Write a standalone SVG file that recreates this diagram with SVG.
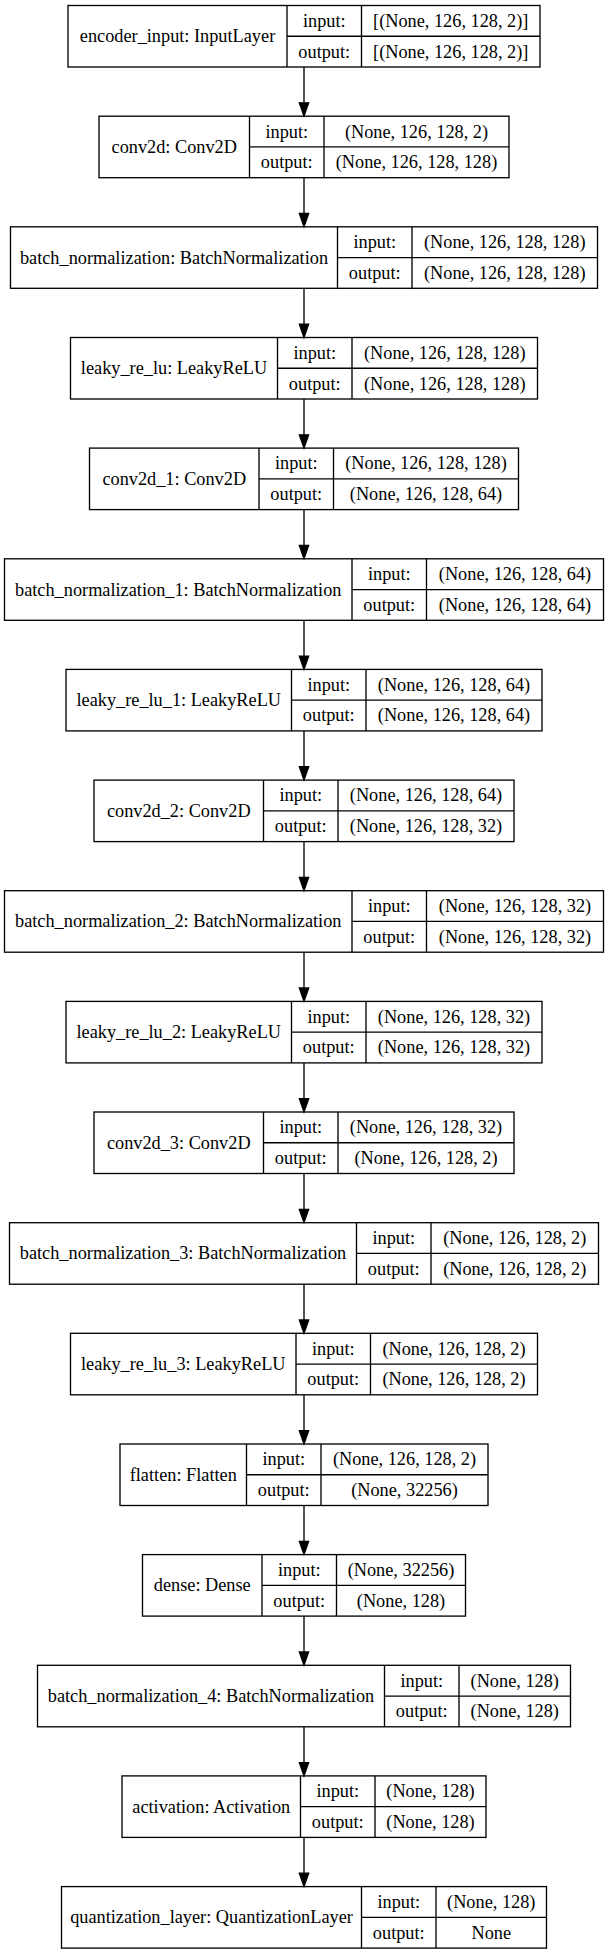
<svg xmlns="http://www.w3.org/2000/svg" width="608" height="1955" viewBox="0 0 608 1955" font-family="'Liberation Serif', 'DejaVu Serif', serif" font-size="18.3">
<style>
.b{fill:none;stroke:#000;stroke-width:1.33}
.e{fill:none;stroke:#000;stroke-width:1.33}
text{font-family:'Liberation Serif','DejaVu Serif',serif;font-size:18.3px;text-anchor:middle;fill:#000}
</style>
<defs>
<marker id="ah" markerUnits="userSpaceOnUse" markerWidth="16" markerHeight="12" refX="0" refY="4.67" orient="auto" overflow="visible">
<path d="M0,0 L13.3,4.67 L0,9.33 Z" fill="#000" stroke="#000" stroke-width="1.33"/>
</marker>
</defs>
<rect width="608" height="1955" fill="#fff"/>
<g id="connectors">
<line class="e" x1="304" y1="67" x2="304" y2="102.8" marker-end="url(#ah)"/>
<line class="e" x1="304" y1="177.7" x2="304" y2="213.5" marker-end="url(#ah)"/>
<line class="e" x1="304" y1="288.3" x2="304" y2="324.1" marker-end="url(#ah)"/>
<line class="e" x1="304" y1="399" x2="304" y2="434.8" marker-end="url(#ah)"/>
<line class="e" x1="304" y1="509.6" x2="304" y2="545.4" marker-end="url(#ah)"/>
<line class="e" x1="304" y1="620.3" x2="304" y2="656.1" marker-end="url(#ah)"/>
<line class="e" x1="304" y1="730.9" x2="304" y2="766.7" marker-end="url(#ah)"/>
<line class="e" x1="304" y1="841.6" x2="304" y2="877.4" marker-end="url(#ah)"/>
<line class="e" x1="304" y1="952.2" x2="304" y2="988" marker-end="url(#ah)"/>
<line class="e" x1="304" y1="1062.9" x2="304" y2="1098.7" marker-end="url(#ah)"/>
<line class="e" x1="304" y1="1173.5" x2="304" y2="1209.3" marker-end="url(#ah)"/>
<line class="e" x1="304" y1="1284.2" x2="304" y2="1320" marker-end="url(#ah)"/>
<line class="e" x1="304" y1="1394.8" x2="304" y2="1430.6" marker-end="url(#ah)"/>
<line class="e" x1="304" y1="1505.5" x2="304" y2="1541.3" marker-end="url(#ah)"/>
<line class="e" x1="304" y1="1616.1" x2="304" y2="1651.9" marker-end="url(#ah)"/>
<line class="e" x1="304" y1="1726.8" x2="304" y2="1762.6" marker-end="url(#ah)"/>
<line class="e" x1="304" y1="1837.4" x2="304" y2="1873.2" marker-end="url(#ah)"/>
</g>

<g id="encoder_input" transform="translate(0,5.5)">
<rect class="b" x="68" y="0" width="472" height="61.5"/>
<path class="b" d="M287,0V61.5M361.5,0V61.5M287,30.75H540"/>
<text x="177.5" y="36.75">encoder_input: InputLayer</text>
<text x="324.25" y="21.4">input:</text><text x="324.25" y="52">output:</text>
<text x="450.75" y="21.4">[(None, 126, 128, 2)]</text><text x="450.75" y="52">[(None, 126, 128, 2)]</text>
</g>

<g id="conv2d" transform="translate(0,116.2)">
<rect class="b" x="99" y="0" width="410" height="61.5"/>
<path class="b" d="M249.5,0V61.5M324,0V61.5M249.5,30.75H509"/>
<text x="174.25" y="36.75">conv2d: Conv2D</text>
<text x="286.75" y="21.4">input:</text><text x="286.75" y="52">output:</text>
<text x="416.5" y="21.4">(None, 126, 128, 2)</text><text x="416.5" y="52">(None, 126, 128, 128)</text>
</g>

<g id="batch_normalization" transform="translate(0,226.8)">
<rect class="b" x="10.5" y="0" width="587" height="61.5"/>
<path class="b" d="M337.5,0V61.5M412,0V61.5M337.5,30.75H597.5"/>
<text x="174" y="36.75">batch_normalization: BatchNormalization</text>
<text x="374.75" y="21.4">input:</text><text x="374.75" y="52">output:</text>
<text x="504.75" y="21.4">(None, 126, 128, 128)</text><text x="504.75" y="52">(None, 126, 128, 128)</text>
</g>

<g id="leaky_re_lu" transform="translate(0,337.5)">
<rect class="b" x="70.5" y="0" width="467" height="61.5"/>
<path class="b" d="M277.5,0V61.5M352,0V61.5M277.5,30.75H537.5"/>
<text x="174" y="36.75">leaky_re_lu: LeakyReLU</text>
<text x="314.75" y="21.4">input:</text><text x="314.75" y="52">output:</text>
<text x="444.75" y="21.4">(None, 126, 128, 128)</text><text x="444.75" y="52">(None, 126, 128, 128)</text>
</g>

<g id="conv2d_1" transform="translate(0,448.1)">
<rect class="b" x="89.5" y="0" width="429" height="61.5"/>
<path class="b" d="M259,0V61.5M333.5,0V61.5M259,30.75H518.5"/>
<text x="174.25" y="36.75">conv2d_1: Conv2D</text>
<text x="296.25" y="21.4">input:</text><text x="296.25" y="52">output:</text>
<text x="426" y="21.4">(None, 126, 128, 128)</text><text x="426" y="52">(None, 126, 128, 64)</text>
</g>

<g id="batch_normalization_1" transform="translate(0,558.8)">
<rect class="b" x="4.5" y="0" width="599" height="61.5"/>
<path class="b" d="M352,0V61.5M426.5,0V61.5M352,30.75H603.5"/>
<text x="178.25" y="36.75">batch_normalization_1: BatchNormalization</text>
<text x="389.25" y="21.4">input:</text><text x="389.25" y="52">output:</text>
<text x="515" y="21.4">(None, 126, 128, 64)</text><text x="515" y="52">(None, 126, 128, 64)</text>
</g>

<g id="leaky_re_lu_1" transform="translate(0,669.4)">
<rect class="b" x="66" y="0" width="476" height="61.5"/>
<path class="b" d="M291.5,0V61.5M366,0V61.5M291.5,30.75H542"/>
<text x="178.75" y="36.75">leaky_re_lu_1: LeakyReLU</text>
<text x="328.75" y="21.4">input:</text><text x="328.75" y="52">output:</text>
<text x="454" y="21.4">(None, 126, 128, 64)</text><text x="454" y="52">(None, 126, 128, 64)</text>
</g>

<g id="conv2d_2" transform="translate(0,780.1)">
<rect class="b" x="94" y="0" width="420" height="61.5"/>
<path class="b" d="M263.5,0V61.5M338,0V61.5M263.5,30.75H514"/>
<text x="178.75" y="36.75">conv2d_2: Conv2D</text>
<text x="300.75" y="21.4">input:</text><text x="300.75" y="52">output:</text>
<text x="426" y="21.4">(None, 126, 128, 64)</text><text x="426" y="52">(None, 126, 128, 32)</text>
</g>

<g id="batch_normalization_2" transform="translate(0,890.7)">
<rect class="b" x="4.5" y="0" width="599" height="61.5"/>
<path class="b" d="M352,0V61.5M426.5,0V61.5M352,30.75H603.5"/>
<text x="178.25" y="36.75">batch_normalization_2: BatchNormalization</text>
<text x="389.25" y="21.4">input:</text><text x="389.25" y="52">output:</text>
<text x="515" y="21.4">(None, 126, 128, 32)</text><text x="515" y="52">(None, 126, 128, 32)</text>
</g>

<g id="leaky_re_lu_2" transform="translate(0,1001.4)">
<rect class="b" x="66" y="0" width="476" height="61.5"/>
<path class="b" d="M291.5,0V61.5M366,0V61.5M291.5,30.75H542"/>
<text x="178.75" y="36.75">leaky_re_lu_2: LeakyReLU</text>
<text x="328.75" y="21.4">input:</text><text x="328.75" y="52">output:</text>
<text x="454" y="21.4">(None, 126, 128, 32)</text><text x="454" y="52">(None, 126, 128, 32)</text>
</g>

<g id="conv2d_3" transform="translate(0,1112)">
<rect class="b" x="94" y="0" width="420" height="61.5"/>
<path class="b" d="M263.5,0V61.5M338,0V61.5M263.5,30.75H514"/>
<text x="178.75" y="36.75">conv2d_3: Conv2D</text>
<text x="300.75" y="21.4">input:</text><text x="300.75" y="52">output:</text>
<text x="426" y="21.4">(None, 126, 128, 32)</text><text x="426" y="52">(None, 126, 128, 2)</text>
</g>

<g id="batch_normalization_3" transform="translate(0,1222.7)">
<rect class="b" x="9.5" y="0" width="589" height="61.5"/>
<path class="b" d="M356.5,0V61.5M431,0V61.5M356.5,30.75H598.5"/>
<text x="183" y="36.75">batch_normalization_3: BatchNormalization</text>
<text x="393.75" y="21.4">input:</text><text x="393.75" y="52">output:</text>
<text x="514.75" y="21.4">(None, 126, 128, 2)</text><text x="514.75" y="52">(None, 126, 128, 2)</text>
</g>

<g id="leaky_re_lu_3" transform="translate(0,1333.3)">
<rect class="b" x="70.5" y="0" width="467" height="61.5"/>
<path class="b" d="M296,0V61.5M370.5,0V61.5M296,30.75H537.5"/>
<text x="183.25" y="36.75">leaky_re_lu_3: LeakyReLU</text>
<text x="333.25" y="21.4">input:</text><text x="333.25" y="52">output:</text>
<text x="454" y="21.4">(None, 126, 128, 2)</text><text x="454" y="52">(None, 126, 128, 2)</text>
</g>

<g id="flatten" transform="translate(0,1444)">
<rect class="b" x="120" y="0" width="368" height="61.5"/>
<path class="b" d="M246.5,0V61.5M321,0V61.5M246.5,30.75H488"/>
<text x="183.25" y="36.75">flatten: Flatten</text>
<text x="283.75" y="21.4">input:</text><text x="283.75" y="52">output:</text>
<text x="404.5" y="21.4">(None, 126, 128, 2)</text><text x="404.5" y="52">(None, 32256)</text>
</g>

<g id="dense" transform="translate(0,1554.6)">
<rect class="b" x="142.5" y="0" width="323" height="61.5"/>
<path class="b" d="M262,0V61.5M336.5,0V61.5M262,30.75H465.5"/>
<text x="202.25" y="36.75">dense: Dense</text>
<text x="299.25" y="21.4">input:</text><text x="299.25" y="52">output:</text>
<text x="401" y="21.4">(None, 32256)</text><text x="401" y="52">(None, 128)</text>
</g>

<g id="batch_normalization_4" transform="translate(0,1665.3)">
<rect class="b" x="37.5" y="0" width="533" height="61.5"/>
<path class="b" d="M384.5,0V61.5M459,0V61.5M384.5,30.75H570.5"/>
<text x="211" y="36.75">batch_normalization_4: BatchNormalization</text>
<text x="421.75" y="21.4">input:</text><text x="421.75" y="52">output:</text>
<text x="514.75" y="21.4">(None, 128)</text><text x="514.75" y="52">(None, 128)</text>
</g>

<g id="activation" transform="translate(0,1775.9)">
<rect class="b" x="122" y="0" width="364" height="61.5"/>
<path class="b" d="M300.5,0V61.5M375,0V61.5M300.5,30.75H486"/>
<text x="211.25" y="36.75">activation: Activation</text>
<text x="337.75" y="21.4">input:</text><text x="337.75" y="52">output:</text>
<text x="430.5" y="21.4">(None, 128)</text><text x="430.5" y="52">(None, 128)</text>
</g>

<g id="quantization_layer" transform="translate(0,1886.6)">
<rect class="b" x="61.5" y="0" width="485" height="61.5"/>
<path class="b" d="M361.5,0V61.5M436,0V61.5M361.5,30.75H546.5"/>
<text x="211.5" y="36.75">quantization_layer: QuantizationLayer</text>
<text x="398.75" y="21.4">input:</text><text x="398.75" y="52">output:</text>
<text x="491.25" y="21.4">(None, 128)</text><text x="491.25" y="52">None</text>
</g>
</svg>
